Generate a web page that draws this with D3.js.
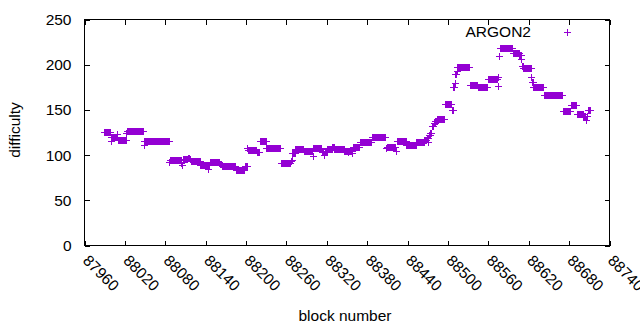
<!DOCTYPE html>
<html>
<head>
<meta charset="utf-8">
<script src="https://cdn.jsdelivr.net/npm/d3@7"></script>
<style>
body { margin: 0; background: #fff; }
text { font-family: "Liberation Sans", Arial, sans-serif; font-size: 15.5px; fill: #000; }
</style>
</head>
<body>
<div class="box"></div>
<script>
// difficulty runs: block range [runStart, runEnd] at runValue
var runStart = [87989, 87999, 88000, 88009, 88010, 88022, 88023, 88048, 88049, 88086,
	88087, 88104, 88105, 88106, 88114, 88116, 88118, 88119, 88132, 88143,
	88144, 88146, 88161, 88164, 88185, 88198, 88202, 88203, 88216, 88220,
	88230, 88252, 88267, 88268, 88269, 88273, 88286, 88299, 88300, 88313,
	88316, 88317, 88321, 88328, 88331, 88346, 88351, 88352, 88358, 88359,
	88369, 88387, 88408, 88409, 88423, 88424, 88438, 88453, 88465, 88469,
	88471, 88472, 88474, 88476, 88479, 88481, 88484, 88495, 88506, 88508,
	88510, 88511, 88513, 88514, 88532, 88544, 88559, 88574, 88575, 88576,
	88577, 88596, 88606, 88609, 88610, 88612, 88624, 88625, 88627, 88642,
	88671, 88683, 88691, 88701, 88705, 88706, 88708];
var runEnd = [87998, 87999, 88008, 88009, 88021, 88022, 88047, 88048, 88085, 88086,
	88103, 88104, 88105, 88113, 88115, 88117, 88118, 88131, 88142, 88143,
	88145, 88160, 88163, 88184, 88197, 88201, 88202, 88215, 88219, 88229,
	88251, 88266, 88267, 88268, 88272, 88285, 88298, 88299, 88312, 88315,
	88316, 88320, 88327, 88330, 88345, 88350, 88351, 88357, 88358, 88368,
	88386, 88407, 88408, 88422, 88423, 88437, 88452, 88464, 88468, 88470,
	88471, 88473, 88475, 88478, 88480, 88483, 88494, 88505, 88507, 88509,
	88510, 88512, 88513, 88531, 88543, 88558, 88573, 88574, 88575, 88576,
	88595, 88605, 88608, 88609, 88611, 88623, 88624, 88626, 88641, 88670,
	88682, 88690, 88700, 88704, 88705, 88707, 88711];
var runValue = [126, 116, 120, 123, 117, 124, 127, 111, 116, 92,
	95, 91, 89, 96, 97, 96, 93, 94, 89, 85,
	89, 92, 90, 88, 83, 88, 108, 106, 103, 116,
	108, 91, 93, 95, 102, 107, 104, 99, 108, 103,
	100, 104, 107, 109, 107, 105, 103, 105, 102, 109,
	115, 120, 108, 109, 105, 116, 111, 114, 117, 119,
	114, 122, 125, 132, 136, 138, 140, 156, 150, 175,
	180, 190, 193, 197, 177, 175, 184, 176, 186, 210,
	218, 213, 211, 206, 199, 196, 186, 181, 175, 167,
	149, 155, 146, 143, 139, 143, 150];

var xTicks = [87960, 88020, 88080, 88140, 88200, 88260, 88320, 88380, 88440, 88500, 88560, 88620, 88680, 88740];
var yTicks = [0, 50, 100, 150, 200, 250];
var seriesName = 'ARGON2';

var points = [];
runStart.forEach(function(s, i) {
	for (var b = s; b <= runEnd[i]; b++) points.push({x: b, y: runValue[i]});
});

var width = 640, height = 330;
var plotLeft = 84.5, plotRight = 609.5, plotTop = 19.5, plotBottom = 245.5;
var color = '#9400d3';

var svg = d3.select('.box')
	.append('svg')
	.attr('width', width)
	.attr('height', height);

var x = d3.scaleLinear().domain([87960, 88740]).range([plotLeft, plotRight]);
var y = d3.scaleLinear().domain([0, 250]).range([plotBottom, plotTop]);

function plus(cx, cy) {
	var s = 3.5;
	return 'M' + (cx - s) + ',' + cy + 'H' + (cx + s) + 'M' + cx + ',' + (cy - s) + 'V' + (cy + s);
}

// axes, ticks point inwards and are mirrored
var xAxis = svg.append('g')
	.attr('transform', 'translate(0,' + plotBottom + ')')
	.call(d3.axisBottom(x).tickValues(xTicks).tickSize(-5).tickFormat(d3.format('d')));
xAxis.selectAll('text')
	.attr('x', null)
	.attr('y', null)
	.attr('dy', null)
	.attr('text-anchor', 'start')
	.attr('transform', 'translate(-3,16) rotate(45)');

svg.append('g')
	.attr('transform', 'translate(0,' + plotTop + ')')
	.call(d3.axisTop(x).tickValues(xTicks).tickSize(-5).tickFormat(''));

svg.append('g')
	.attr('transform', 'translate(' + plotLeft + ',0)')
	.call(d3.axisLeft(y).tickValues(yTicks).tickSize(-5).tickPadding(13));

svg.append('g')
	.attr('transform', 'translate(' + plotRight + ',0)')
	.call(d3.axisRight(y).tickValues(yTicks).tickSize(-5).tickFormat(''));

svg.selectAll('.domain').remove();
svg.selectAll('.tick line').attr('stroke', '#000').attr('shape-rendering', 'crispEdges');
svg.selectAll('.tick text').style('font-family', '"Liberation Sans", Arial, sans-serif').style('font-size', '15.5px').attr('fill', '#000');

svg.append('rect')
	.attr('x', plotLeft)
	.attr('y', plotTop)
	.attr('width', plotRight - plotLeft)
	.attr('height', plotBottom - plotTop)
	.attr('fill', 'none')
	.attr('stroke', '#000')
	.attr('shape-rendering', 'crispEdges');

svg.append('g')
	.selectAll('path')
	.data(points)
	.enter()
	.append('path')
		.attr('d', function(d) { return plus(Math.round(x(d.x)) + 0.5, Math.round(y(d.y)) + 0.5); })
		.attr('stroke', color)
		.attr('stroke-width', 1)
		.attr('fill', 'none');

// legend
svg.append('text')
	.attr('x', 531)
	.attr('y', 37)
	.attr('text-anchor', 'end')
	.text(seriesName);

svg.append('path')
	.attr('d', plus(567.5, 32.5))
	.attr('stroke', color)
	.attr('fill', 'none');

svg.append('text')
	.attr('x', 345)
	.attr('y', 321)
	.attr('text-anchor', 'middle')
	.text('block number');

svg.append('text')
	.attr('transform', 'translate(20,130) rotate(-90)')
	.attr('text-anchor', 'middle')
	.text('difficulty');
</script>
</body>
</html>
